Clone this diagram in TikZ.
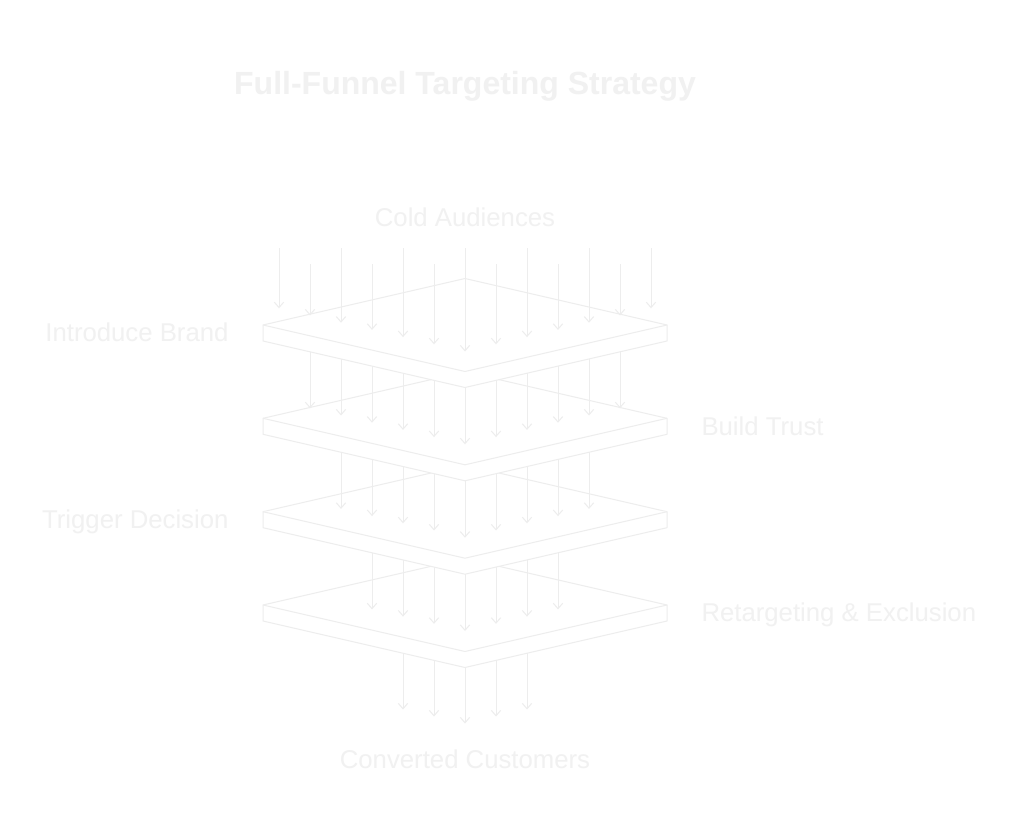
\documentclass[tikz,border=0pt]{standalone}
\usepackage{fontspec}
\setmainfont{Liberation Sans}
\usetikzlibrary{arrows.meta}
\definecolor{faintline}{HTML}{EDEDED}
\definecolor{fainttext}{HTML}{F1F1F1}
\tikzset{
	every path/.style={line width=0.75pt},
	slab/.style={
		draw=faintline,
		fill=white,
		line join=round,
	},
	flow/.style={
		draw=faintline,
		-{Straight Barb[length=4pt,width=7pt]}
	},
	stage/.style={
		text=fainttext,
		font=\fontsize{19.3}{23}\selectfont,
		inner sep=0pt,
	},
	heading/.style={
		text=fainttext,
		font=\bfseries\fontsize{24}{29}\selectfont,
		inner sep=0pt,
	},
}

\begin{document}
\begin{tikzpicture}[x=0.75pt,y=-0.75pt]
	\fill[white] (0,0) rectangle (1024,838);
	\useasboundingbox (0,0) rectangle (1024,838);

	% layers, lowest first so the upper ones hide them
	\foreach \Y in {605,511.7,418.3,325} {
		\filldraw[slab] (465,{\Y-46.5}) -- (667,\Y) -- (667,{\Y+16}) -- (465,{\Y+62.5})
			-- (263,{\Y+16}) -- (263,\Y) -- cycle;
		\draw[slab] (263,\Y) -- (465,{\Y+46.5}) -- (667,\Y);
	}

	% audience flowing in
	\foreach \i in {-6,...,6}
		\draw[flow] ({465+31*\i},{248+16*mod(abs(\i),2)}) -- ({465+31*\i},{351.5-7.2*abs(\i)});
	\foreach \n/\Yu/\Yl in {5/325/418.3, 4/418.3/511.7, 3/511.7/605}
		\foreach \i in {-\n,...,\n}
			\draw[flow] ({465+31*\i},{\Yu+62.5-7.14*abs(\i)}) -- ({465+31*\i},{\Yl+26-7.2*abs(\i)});
	\foreach \i in {-2,...,2}
		\draw[flow] ({465+31*\i},{667.5-7.14*abs(\i)}) -- ({465+31*\i},{723.5-7*abs(\i)});

	\node[heading, anchor=base] (title) at (465,95) {Full-Funnel Targeting Strategy};
	\node[stage, anchor=base] (cold) at (465,226) {Cold Audiences};
	\node[stage, anchor=base east] (introduce) at (229,341.7) {Introduce Brand};
	\node[stage, anchor=base west] (trust) at (701,435) {Build Trust};
	\node[stage, anchor=base east] (trigger) at (229,528.4) {Trigger Decision};
	\node[stage, anchor=base west] (retarget) at (701,621.7) {Retargeting \& Exclusion};
	\node[stage, anchor=base] (converted) at (465,768.3) {Converted Customers};

\end{tikzpicture}
\end{document}
